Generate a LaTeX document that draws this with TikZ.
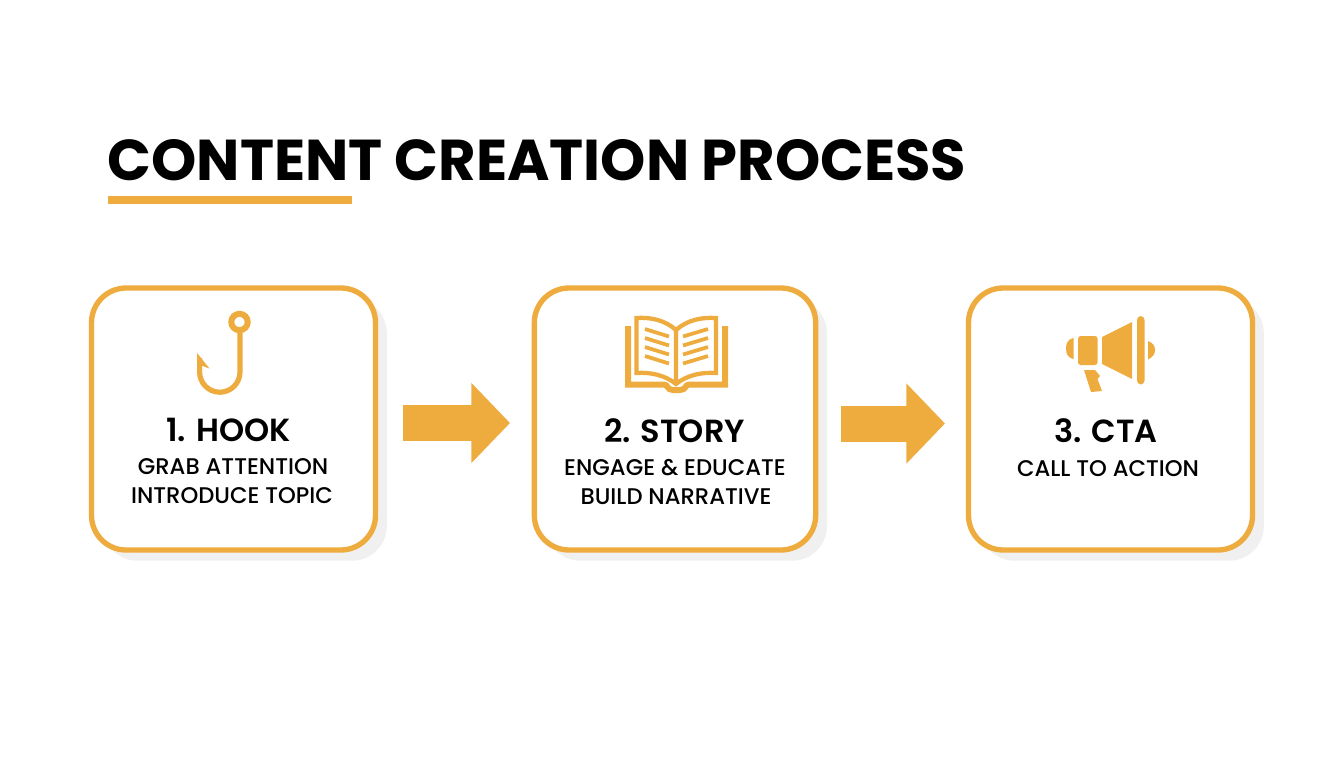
\documentclass[tikz,border=0pt]{standalone}
\usepackage{fontspec}
\setmainfont{Poppins}[BoldFont={* Bold}]
\newfontfamily\semifont{Poppins SemiBold}
\newfontfamily\medfont{Poppins Medium}
\usetikzlibrary{arrows.meta,shadows}
\definecolor{amber}{HTML}{EFAC3E}
\definecolor{shade}{HTML}{F0F0F0}
\tikzset{
  stepbox/.style={draw=amber,line width=4pt,fill=white,rounded corners=26pt,
    minimum width=212pt,minimum height=196.5pt,inner sep=0pt,
    drop shadow={shadow xshift=8.5pt,shadow yshift=-8pt,fill=shade,opacity=1}},
  steparrow/.style={draw=amber,line width=27pt,-{Triangle[length=29pt,width=58.5pt]}},
  headtext/.style={font=\semifont\fontsize{24pt}{24pt}\selectfont,inner sep=0pt},
  subtext/.style={font=\medfont\fontsize{17pt}{17pt}\selectfont,inner sep=0pt},
  icon/.style={draw=amber,fill=none,line width=3.2pt},
  iconfill/.style={fill=amber,draw=none}
}
\begin{document}
\begin{tikzpicture}[x=.75pt,y=-.75pt]
\useasboundingbox[fill=white] (0,0) rectangle (1344,768);
  \node[inner sep=0pt,font=\bfseries\fontsize{43.2pt}{43.2pt}\selectfont] (title) at (537,160) {CONTENT CREATION PROCESS};
  \fill[amber] (107.5,196) rectangle (351.5,204);
  % the three boxes
  \foreach \n/\x/\w in
    { hook/233.5/213,
     story/675/211,
     cta/1110.5/213
    }
    \node[stepbox,minimum width=\w pt] (\n) at (\x,419) {};
  % arrows between boxes
  \coordinate (a1) at (403,423);
  \coordinate (b1) at (510,423);
  \coordinate (a2) at (841,423.5);
  \coordinate (b2) at (945,423.5);
  \draw[steparrow] (a1) -- (b1);
  \draw[steparrow] (a2) -- (b2);
  % labels
  \foreach \n/\x/\y/\l in
    { hookh/228.5/430/{1. HOOK},
     storyh/674.5/431/{2. STORY},
     ctah/1106/431/{3. CTA}
    }
    \node[headtext] (\n) at (\x,\y) {\l};
  \foreach \n/\x/\y/\l in
    { hooka/233/467/{GRAB ATTENTION},
     hookb/232/496/{INTRODUCE TOPIC},
     storya/675/468/{ENGAGE \& EDUCATE},
     storyb/676/497/{BUILD NARRATIVE},
     ctaa/1108/469/{CALL TO ACTION}
    }
    \node[subtext] (\n) at (\x,\y) {\l};
  % hook
  \draw[icon,line width=4.5pt] (239.5,322) circle (8.2);
  \draw[icon,line width=3.9pt] (240,332) -- (240,372) arc (0:180:20.2) -- (199.6,358);
  \fill[amber] (197,353) -- (209.5,368.5) -- (197,364) -- cycle;
  % book
  \draw[icon,line join=miter] (676,384) -- (676,330) .. controls (665,320) and (650,317) .. (636.5,318) -- (636.5,373) .. controls (650,372) and (665,375) .. (676,384)
    .. controls (687,375) and (702,372) .. (716,373) -- (716,318) .. controls (702,317) and (687,320) .. (676,330);
  \draw[icon,line width=4.5pt] (628,326) -- (628,384.5) -- (664,384.5) .. controls (668,384.5) and (667,390) .. (673,390) -- (680,390) .. controls (686,390) and (685,384.5) .. (689,384.5) -- (725,384.5) -- (725,326);
  \foreach \y in {0,9,18,27} {
    \draw[icon,line width=2.8pt] (645,329+\y) -- (669,336.5+\y);
    \draw[icon,line width=2.8pt] (683,336.5+\y) -- (708,329+\y);
  }
  % megaphone
  \fill[amber] (1073.5,338) .. controls (1068,339) and (1066,343) .. (1066,348.5) .. controls (1066,354) and (1068,358) .. (1073.5,359) -- cycle;
  \fill[amber,rounded corners=2pt] (1078,336) rectangle (1097.5,365);
  \fill[amber] (1102,337) -- (1132,322) -- (1132,379) -- (1102,364) -- cycle;
  \fill[amber,rounded corners=3pt] (1137,316) rectangle (1144.5,384.5);
  \fill[amber] (1148,341) .. controls (1153,343) and (1155,346) .. (1155,350) .. controls (1155,354) and (1153,357) .. (1148,359.5) -- cycle;
  \fill[amber] (1084,370) -- (1095,370) -- (1100,376) -- (1097.5,379) -- (1102,391) -- (1091,392) -- cycle;
\end{tikzpicture}
\end{document}
